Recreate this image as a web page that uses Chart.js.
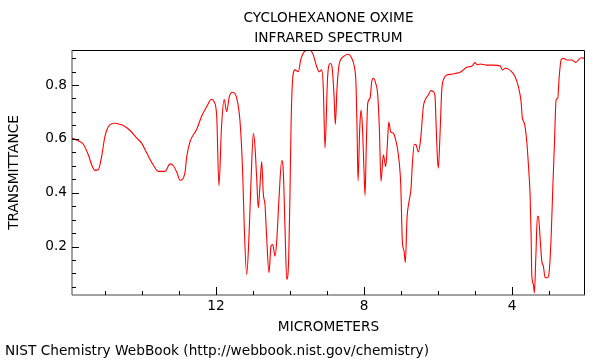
<!DOCTYPE html>
<html>
<head>
<meta charset="utf-8">
<script src="https://cdn.jsdelivr.net/npm/chart.js@4"></script>
<style>
  html, body { margin: 0; padding: 0; background: #fff; }
  #wrap { width: 600px; height: 360px; }
</style>
</head>
<body>
<div id="wrap"><canvas id="irGraf"></canvas></div>
<script>
// Spekter lest av bildet: bolgelengde (mikrometer) og transmittans
const mikrometer = [
  15.89, 15.68, 15.59, 15.45, 15.36, 15.27, 15.18, 15.09, 15.0, 14.87,
  14.73, 14.6, 14.46, 14.32, 14.14, 14.01, 13.87, 13.7, 13.56, 13.38,
  13.24, 13.15, 13.05, 12.97, 12.84, 12.79, 12.7, 12.52, 12.39, 12.25,
  12.12, 12.05, 11.98, 11.92, 11.85, 11.78, 11.71, 11.64, 11.55, 11.44,
  11.35, 11.28, 11.235, 11.17, 11.11, 11.05, 10.99, 10.95, 10.9, 10.857,
  10.81, 10.765, 10.72, 10.676, 10.63, 10.568, 10.514, 10.468, 10.405, 10.359,
  10.297, 10.224, 10.181, 10.135, 10.089, 10.035, 10.0, 9.973, 9.927, 9.865,
  9.776, 9.711, 9.595, 9.459, 9.37, 9.278, 9.208, 9.143, 9.1, 9.054,
  8.986, 8.919, 8.873, 8.811, 8.776, 8.73, 8.676, 8.559, 8.424, 8.332,
  8.262, 8.216, 8.189, 8.162, 8.116, 8.081, 8.046, 8.0, 7.973, 7.938,
  7.9, 7.838, 7.792, 7.749, 7.684, 7.63, 7.586, 7.541, 7.478, 7.414,
  7.37, 7.332, 7.278, 7.208, 7.135, 7.073, 7.008, 6.965, 6.919, 6.884,
  6.838, 6.784, 6.73, 6.695, 6.641, 6.595, 6.532, 6.473, 6.397, 6.351,
  6.262, 6.197, 6.127, 6.081, 6.054, 6.019, 5.992, 5.946, 5.9, 5.838,
  5.765, 5.63, 5.541, 5.405, 5.316, 5.224, 5.089, 5.0, 4.938, 4.865,
  4.684, 4.505, 4.324, 4.262, 4.189, 4.1, 4.008, 3.919, 3.83, 3.757,
  3.722, 3.668, 3.603, 3.559, 3.514, 3.486, 3.468, 3.424, 3.397, 3.359,
  3.316, 3.289, 3.243, 3.197, 3.154, 3.108, 3.046, 3.0, 2.946, 2.9,
  2.857, 2.811, 2.765, 2.73, 2.676, 2.614, 2.522, 2.386, 2.278, 2.208,
  2.135, 2.03
];
const transmittans = [
  0.603, 0.59, 0.581, 0.541, 0.504, 0.483, 0.485, 0.534, 0.609, 0.652,
  0.658, 0.654, 0.646, 0.631, 0.603, 0.584, 0.547, 0.504, 0.479, 0.479,
  0.507, 0.5, 0.473, 0.446, 0.473, 0.534, 0.59, 0.636, 0.683, 0.72,
  0.747, 0.738, 0.683, 0.426, 0.646, 0.747, 0.701, 0.757, 0.773, 0.751,
  0.664, 0.479, 0.269, 0.096, 0.233, 0.456, 0.621, 0.578, 0.454, 0.343,
  0.43, 0.516, 0.393, 0.356, 0.232, 0.103, 0.201, 0.207, 0.164, 0.22,
  0.38, 0.519, 0.479, 0.269, 0.078, 0.158, 0.405, 0.64, 0.825, 0.856,
  0.849, 0.893, 0.926, 0.93, 0.911, 0.868, 0.849, 0.856, 0.788, 0.566,
  0.825, 0.88, 0.874, 0.763, 0.654, 0.788, 0.874, 0.905, 0.914, 0.899,
  0.868, 0.8, 0.64, 0.444, 0.64, 0.707, 0.652, 0.479, 0.39, 0.578,
  0.732, 0.751, 0.812, 0.825, 0.806, 0.763, 0.64, 0.442, 0.541, 0.497,
  0.578, 0.662, 0.625, 0.621, 0.59, 0.541, 0.43, 0.22, 0.183, 0.14,
  0.306, 0.368, 0.417, 0.504, 0.58, 0.578, 0.551, 0.596, 0.72, 0.744,
  0.763, 0.779, 0.775, 0.757, 0.658, 0.534, 0.491, 0.621, 0.781, 0.825,
  0.837, 0.84, 0.843, 0.847, 0.856, 0.866, 0.87, 0.883, 0.875, 0.878,
  0.874, 0.874, 0.871, 0.856, 0.862, 0.859, 0.849, 0.831, 0.794, 0.738,
  0.677, 0.658, 0.59, 0.504, 0.393, 0.244, 0.096, 0.059, 0.028, 0.158,
  0.312, 0.312, 0.232, 0.146, 0.127, 0.084, 0.084, 0.103, 0.232, 0.417,
  0.578, 0.744, 0.751, 0.825, 0.893, 0.899, 0.893, 0.893, 0.884, 0.893,
  0.901, 0.899
];

// Akser: alle tikk og de som far tall
const xTikk = [3, 4, 5, 6, 7, 8, 9, 10, 11, 12, 13, 14, 15];
const xTikkMedTall = [4, 8, 12];
const yTikk = [0.05, 0.1, 0.15, 0.2, 0.25, 0.3, 0.35, 0.4, 0.45, 0.5, 0.55, 0.6, 0.65, 0.7, 0.75, 0.8, 0.85, 0.9];
const yTikkMedTall = [0.2, 0.4, 0.6, 0.8];

const tittel = ['CYCLOHEXANONE OXIME', 'INFRARED SPECTRUM'];
const kilde = 'NIST Chemistry WebBook (http://webbook.nist.gov/chemistry)';

const font = 'DejaVu Sans';
const fontStr = 13.7;

function erMedTall(liste, v) {
    return liste.some(t => Math.abs(t - v) < 1e-6);
}

// Ramme og tikk som peker innover, slik originalen har det
const rammeOgTikk = {
    id: 'rammeOgTikk',
    afterDraw(chart) {
        const ctx = chart.ctx;
        const a = chart.chartArea;
        const xs = chart.scales.x;
        const ys = chart.scales.y;
        ctx.save();
        ctx.strokeStyle = '#000';
        ctx.lineWidth = 1;

        // topp og hoyre: tynn strek
        ctx.beginPath();
        ctx.moveTo(a.left, a.top + 0.5);
        ctx.lineTo(a.right - 0.5, a.top + 0.5);
        ctx.lineTo(a.right - 0.5, a.bottom);
        ctx.stroke();

        // venstre og bunn: litt grovere
        ctx.strokeStyle = '#444';
        ctx.beginPath();
        ctx.moveTo(a.left, a.top);
        ctx.lineTo(a.left, a.bottom);
        ctx.lineTo(a.right, a.bottom);
        ctx.stroke();

        ctx.strokeStyle = '#000';
        ctx.beginPath();
        xTikk.forEach(v => {
            const px = Math.round(xs.getPixelForValue(v)) + 0.5;
            const len = erMedTall(xTikkMedTall, v) ? 8 : 4;
            ctx.moveTo(px, a.bottom);
            ctx.lineTo(px, a.bottom - len);
        });
        yTikk.forEach(v => {
            const py = Math.round(ys.getPixelForValue(v)) + 0.5;
            const len = erMedTall(yTikkMedTall, v) ? 7 : 4;
            ctx.moveTo(a.left, py);
            ctx.lineTo(a.left + len, py);
        });
        ctx.stroke();
        ctx.restore();
    }
};

const spekterData = {
    datasets: [{
        data: mikrometer.map((m, i) => ({ x: m, y: transmittans[i] })),
        borderColor: '#ff0000',
        borderWidth: 1.1,
        pointRadius: 0,
        fill: false,
        cubicInterpolationMode: 'monotone'
    }]
};

const spekterConfig = {
    type: 'line',
    data: spekterData,
    plugins: [rammeOgTikk],
    options: {
        responsive: true,
        maintainAspectRatio: false,
        animation: false,
        layout: { padding: { left: 5, right: 15, top: 0, bottom: 0 } },
        plugins: {
            legend: { display: false },
            tooltip: { enabled: false },
            title: {
                display: true,
                text: tittel,
                fullSize: false,
                color: '#000',
                font: { family: font, size: fontStr, weight: 'normal', lineHeight: '20px' },
                padding: { top: 8, bottom: 2 }
            },
            subtitle: {
                display: true,
                text: kilde,
                position: 'bottom',
                align: 'start',
                color: '#000',
                font: { family: font, size: fontStr, weight: 'normal', lineHeight: '18px' },
                padding: { top: 2, bottom: 0 }
            }
        },
        scales: {
            x: {
                type: 'linear',
                reverse: true,
                min: 2.03,
                max: 15.89,
                grid: { display: false, drawTicks: false },
                border: { display: false },
                afterBuildTicks: s => { s.ticks = xTikk.map(v => ({ value: v })); },
                afterFit: s => { s.height = 45; },
                ticks: {
                    autoSkip: false,
                    maxRotation: 0,
                    padding: 3,
                    color: '#000',
                    font: { family: font, size: fontStr },
                    callback: v => erMedTall(xTikkMedTall, v) ? String(v) : ''
                },
                title: {
                    display: true,
                    text: 'MICROMETERS',
                    color: '#000',
                    font: { family: font, size: fontStr, lineHeight: '16px' },
                    padding: { top: 0, bottom: 5 }
                }
            },
            y: {
                min: 0.02,
                max: 0.93,
                grid: { display: false, drawTicks: false },
                border: { display: false },
                afterBuildTicks: s => { s.ticks = yTikk.map(v => ({ value: v })); },
                afterFit: s => { s.width = 67; },
                ticks: {
                    autoSkip: false,
                    padding: 5,
                    color: '#000',
                    font: { family: font, size: fontStr },
                    callback: v => erMedTall(yTikkMedTall, v) ? v.toFixed(1) : ''
                },
                title: {
                    display: true,
                    text: 'TRANSMITTANCE',
                    color: '#000',
                    font: { family: font, size: fontStr, lineHeight: '16px' },
                    padding: { top: 1, bottom: 0 }
                }
            }
        }
    }
};

let spekterGraf = new Chart(document.getElementById('irGraf'), spekterConfig);
</script>
</body>
</html>
